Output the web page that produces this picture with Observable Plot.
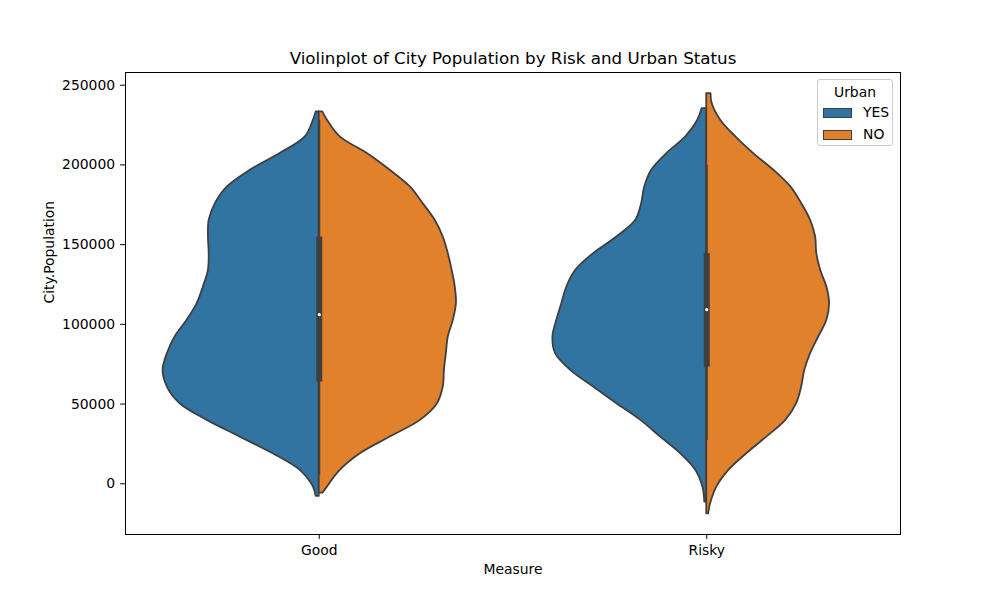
<!DOCTYPE html>
<html>
<head>
<meta charset="utf-8">
<script src="https://cdn.jsdelivr.net/npm/d3@7"></script>
<script src="https://cdn.jsdelivr.net/npm/@observablehq/plot@0.6"></script>
<style>
  html, body { margin: 0; padding: 0; background: white; }
  #wrap { position: relative; width: 1000px; height: 600px; font-family: "DejaVu Sans", sans-serif; }
  #legend { position: absolute; left: 817px; top: 79px; width: 76px; height: 67px; box-sizing: border-box;
    border: 1px solid #cccccc; border-radius: 3px; background: rgba(255,255,255,0.8); font-size: 13.9px; color: #000; }
  #legend .title { position: absolute; left: 0; width: 100%; top: 4px; text-align: center; line-height: 17px; }
  #legend .sw { position: absolute; left: 5px; width: 29px; height: 10px; box-sizing: border-box; border: 1px solid #3f3f3f; }
  #legend .lab { position: absolute; left: 45px; line-height: 17px; }
</style>
</head>
<body>
<div id="wrap"></div>
<script>
// ---- Data ----
const categories = ["Good", "Risky"];
const hues = ["YES", "NO"];
const colors = ["#3274a1", "#e1812c"];
const yTicks = [0, 50000, 100000, 150000, 200000, 250000];

// Violin outlines: y (City.Population) and half-width (fraction of category spacing)
const goodYesY = [233260, 228030, 217570, 207110, 196650, 186190, 175730, 165270, 154810, 144350, 133890, 123430, 112970, 102510, 92050, 81590, 71130, 60670, 50210, 39750, 29290, 18830, 8370, -2090, -7950];
const goodYesW = [0.008, 0.015, 0.036, 0.101, 0.178, 0.237, 0.268, 0.284, 0.286, 0.284, 0.286, 0.299, 0.315, 0.341, 0.372, 0.392, 0.403, 0.392, 0.359, 0.289, 0.204, 0.119, 0.049, 0.015, 0.008];

const goodNoY = [233260, 228030, 217570, 207110, 196650, 186190, 175730, 165270, 154810, 144350, 133890, 123430, 112970, 102510, 92050, 81590, 71130, 60670, 50210, 39750, 29290, 18830, 8370, -2090, -5860];
const goodNoW = [0.009, 0.021, 0.054, 0.124, 0.183, 0.235, 0.268, 0.299, 0.320, 0.333, 0.343, 0.351, 0.354, 0.346, 0.333, 0.328, 0.323, 0.320, 0.305, 0.261, 0.183, 0.106, 0.054, 0.021, 0.010];

const riskyYesY = [235350, 228030, 217570, 207110, 196650, 186190, 175730, 165270, 154810, 144350, 133890, 123430, 112970, 102510, 92050, 81590, 71130, 60670, 50210, 39750, 29290, 18830, 8370, -2090, -11510];
const riskyYesW = [0.012, 0.023, 0.054, 0.103, 0.142, 0.160, 0.168, 0.183, 0.232, 0.292, 0.338, 0.361, 0.374, 0.387, 0.397, 0.390, 0.351, 0.292, 0.232, 0.170, 0.119, 0.067, 0.028, 0.010, 0.005];

const riskyNoY = [244760, 238490, 228030, 217570, 207110, 196650, 186190, 175730, 165270, 154810, 144350, 133890, 123430, 112970, 102510, 92050, 81590, 71130, 60670, 50210, 39750, 29290, 18830, 8370, -2090, -12550, -18830];
const riskyNoW = [0.011, 0.014, 0.036, 0.075, 0.121, 0.173, 0.217, 0.245, 0.268, 0.281, 0.284, 0.294, 0.310, 0.317, 0.310, 0.289, 0.268, 0.253, 0.245, 0.232, 0.204, 0.155, 0.103, 0.057, 0.026, 0.010, 0.005];

// Inner box summaries (per category)
const boxQ1 = [63800, 73220];
const boxQ3 = [154800, 144350];
const boxMedian = [106060, 109200];
const whiskerLow = [5000, 27200];
const whiskerHigh = [228000, 199800];

// ---- Build tidy rows ----
const violins = [
  {measure: "Good", urban: "YES", ys: goodYesY, ws: goodYesW},
  {measure: "Good", urban: "NO", ys: goodNoY, ws: goodNoW},
  {measure: "Risky", urban: "YES", ys: riskyYesY, ws: riskyYesW},
  {measure: "Risky", urban: "NO", ys: riskyNoY, ws: riskyNoW}
];
const rows = violins.flatMap(v => v.ys.map((y, i) => ({
  measure: v.measure, urban: v.urban, y, w: v.ws[i], side: v.urban === "YES" ? -1 : 1
})));
const boxes = categories.map((c, i) => ({
  measure: c, q1: boxQ1[i], q3: boxQ3[i], med: boxMedian[i], lo: whiskerLow[i], hi: whiskerHigh[i]
}));
const xpos = m => categories.indexOf(m);
const edge = "#3f3f3f";

const chart = Plot.plot({
  width: 1000,
  height: 600,
  marginLeft: 125,
  marginRight: 100,
  marginTop: 72,
  marginBottom: 66,
  style: {fontFamily: "DejaVu Sans, sans-serif", fontSize: "13.9px", color: "black", background: "white"},
  x: {domain: [-0.5, 1.5]},
  y: {domain: [-31820, 257970]},
  color: {domain: hues, range: colors},
  marks: [
    Plot.areaX(rows, {
      y: "y",
      x1: d => xpos(d.measure),
      x2: d => xpos(d.measure) + d.side * d.w,
      z: d => d.measure + d.urban,
      fill: "urban",
      stroke: edge,
      strokeWidth: 1.8,
      curve: "catmull-rom"
    }),
    Plot.ruleX(boxes, {x: d => xpos(d.measure), y1: "lo", y2: "hi", stroke: edge, strokeWidth: 2}),
    Plot.ruleX(boxes, {x: d => xpos(d.measure), y1: "q1", y2: "q3", stroke: edge, strokeWidth: 6}),
    Plot.dot(boxes, {x: d => xpos(d.measure), y: "med", r: 1.6, fill: "white", stroke: null}),
    Plot.frame({stroke: "black", strokeWidth: 1}),
    Plot.axisX({ticks: [0, 1], tickFormat: i => categories[i], tickSize: 4.9, tickPadding: 6, label: null, fontSize: "13.9px"}),
    Plot.axisY({ticks: yTicks, tickFormat: d => String(d), tickSize: 4.9, tickPadding: 5.5, label: null, fontSize: "13.9px"}),
    Plot.text(["Measure"], {frameAnchor: "bottom", lineAnchor: "bottom", dy: 39.5, text: d => d, fontSize: 13.9}),
    Plot.text(["City.Population"], {frameAnchor: "left", dx: -76, rotate: -90, text: d => d, fontSize: 13.9}),
    Plot.text(["Violinplot of City Population by Risk and Urban Status"], {frameAnchor: "top", lineAnchor: "bottom", dy: -8.5, text: d => d, fontSize: 16.7})
  ]
});

const wrap = document.getElementById("wrap");
wrap.appendChild(chart);

// Legend
const legend = document.createElement("div");
legend.id = "legend";
const t = document.createElement("div");
t.className = "title";
t.textContent = "Urban";
legend.appendChild(t);
hues.forEach((h, i) => {
  const sw = document.createElement("div");
  sw.className = "sw";
  sw.style.top = (28 + i * 21.5) + "px";
  sw.style.background = colors[i];
  legend.appendChild(sw);
  const lab = document.createElement("div");
  lab.className = "lab";
  lab.style.top = (24 + i * 21.5) + "px";
  lab.textContent = h;
  legend.appendChild(lab);
});
wrap.appendChild(legend);
</script>
</body>
</html>
